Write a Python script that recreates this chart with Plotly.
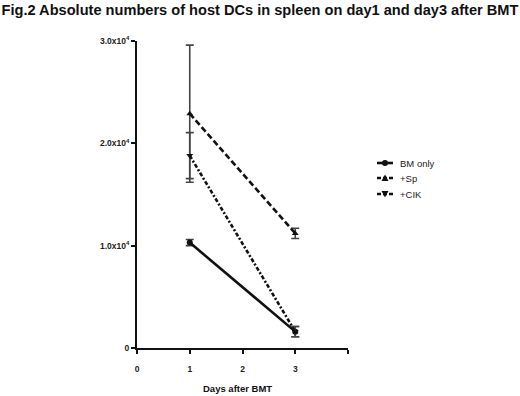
import plotly.graph_objects as go

days = [1, 3]
series_names = ["BM only", "+Sp", "+CIK"]
bm_mean = [1.03e4, 0.16e4]
bm_err = [0.03e4, 0.05e4]
sp_mean = [2.29e4, 1.12e4]
sp_err = [0.67e4, 0.05e4]
cik_mean = [1.88e4, 0.16e4]
cik_err = [0.225e4, 0.05e4]

x_ticks = [0, 1, 2, 3, 4]
x_ticktext = ["0", "1", "2", "3", ""]
y_ticks = [0, 1e4, 2e4, 3e4]
y_ticktext = ["0", "1.0x10<sup>4</sup>", "2.0x10<sup>4</sup>", "3.0x10<sup>4</sup>"]

FONT = "Liberation Sans, Arial, sans-serif"
ink = "#111111"

styles = [
    dict(dash="solid", symbol="circle"),
    dict(dash="6px,3px", symbol="triangle-up"),
    dict(dash="4px,2px,2px,2px", symbol="triangle-down"),
]
means = [bm_mean, sp_mean, cik_mean]
errs = [bm_err, sp_err, cik_err]

fig = go.Figure()
for name, m, e, st in zip(series_names, means, errs, styles):
    fig.add_trace(go.Scatter(
        x=days, y=m, name=name, mode="lines+markers",
        line=dict(color=ink, width=2.6, dash=st["dash"]),
        marker=dict(color=ink, size=6, symbol=st["symbol"]),
        error_y=dict(type="data", array=e, visible=True, color="#444444",
                     thickness=1.6, width=4),
        showlegend=False,
    ))

# manual legend (paper coordinates)
plot_l, plot_r, plot_t, plot_b = 137, 348, 41, 348
pw, ph = plot_r - plot_l, plot_b - plot_t
def px(xp):
    return (xp - plot_l) / pw
def py(yp):
    return (plot_b - yp) / ph

shapes = []
annotations = []
rows = [163, 178, 194]
for name, st, yr in zip(series_names, styles, rows):
    shapes.append(dict(type="line", xref="paper", yref="paper",
                       x0=px(377), x1=px(393), y0=py(yr), y1=py(yr),
                       line=dict(color=ink, width=2.6, dash=st["dash"] if st["dash"] == "solid" else "4px,2px")))
    if st["symbol"] == "circle":
        shapes.append(dict(type="circle", xref="paper", yref="paper",
                           xsizemode="pixel", ysizemode="pixel",
                           xanchor=px(385), yanchor=py(yr),
                           x0=-3, x1=3, y0=-3, y1=3,
                           fillcolor=ink, line=dict(width=0)))
    elif st["symbol"] == "triangle-up":
        shapes.append(dict(type="path", xref="paper", yref="paper",
                           xsizemode="pixel", ysizemode="pixel",
                           xanchor=px(385), yanchor=py(yr),
                           path="M -3.5 -3 L 3.5 -3 L 0 3.5 Z",
                           fillcolor=ink, line=dict(width=0)))
    else:
        shapes.append(dict(type="path", xref="paper", yref="paper",
                           xsizemode="pixel", ysizemode="pixel",
                           xanchor=px(385), yanchor=py(yr),
                           path="M -3.5 3 L 3.5 3 L 0 -3.5 Z",
                           fillcolor=ink, line=dict(width=0)))
    annotations.append(dict(text=name, xref="paper", yref="paper",
                            x=px(398), y=py(yr), xanchor="left", yanchor="middle",
                            showarrow=False, font=dict(family=FONT, size=9.5, color="#222222")))

annotations.append(dict(text="<b>Days after BMT</b>", xref="paper", yref="paper",
                        x=px(237), y=py(388), xanchor="center", yanchor="middle",
                        showarrow=False, font=dict(family=FONT, size=9.5, color=ink)))

fig.update_layout(
    width=520, height=396,
    margin=dict(l=plot_l, r=520 - plot_r, t=plot_t, b=396 - plot_b),
    paper_bgcolor="white", plot_bgcolor="white",
    title=dict(text="<b>Fig.2 Absolute numbers of host DCs in spleen on day1 and day3 after BMT</b>",
               x=0.003, xanchor="left", y=1 - 10 / 396, yanchor="middle",
               font=dict(family=FONT, size=14.6, color=ink)),
    shapes=shapes, annotations=annotations,
    xaxis=dict(range=[0, 4], tickvals=x_ticks, ticktext=x_ticktext,
               showgrid=False, zeroline=False, showline=True, linecolor=ink, linewidth=2,
               ticks="outside", ticklen=4, tickwidth=1.5, tickcolor=ink,
               ticklabelstandoff=8,
               tickfont=dict(family=FONT, size=8.5, color="#222222", weight="bold")),
    yaxis=dict(range=[0, 3e4], tickvals=y_ticks, ticktext=y_ticktext,
               showgrid=False, zeroline=False, showline=True, linecolor=ink, linewidth=2,
               ticks="outside", ticklen=4, tickwidth=1.5, tickcolor=ink,
               tickfont=dict(family=FONT, size=8.5, color="#222222", weight="bold")),
)

fig.write_html("out.html", config={"displayModeBar": False},
               post_script="document.body.style.margin='0px';")
